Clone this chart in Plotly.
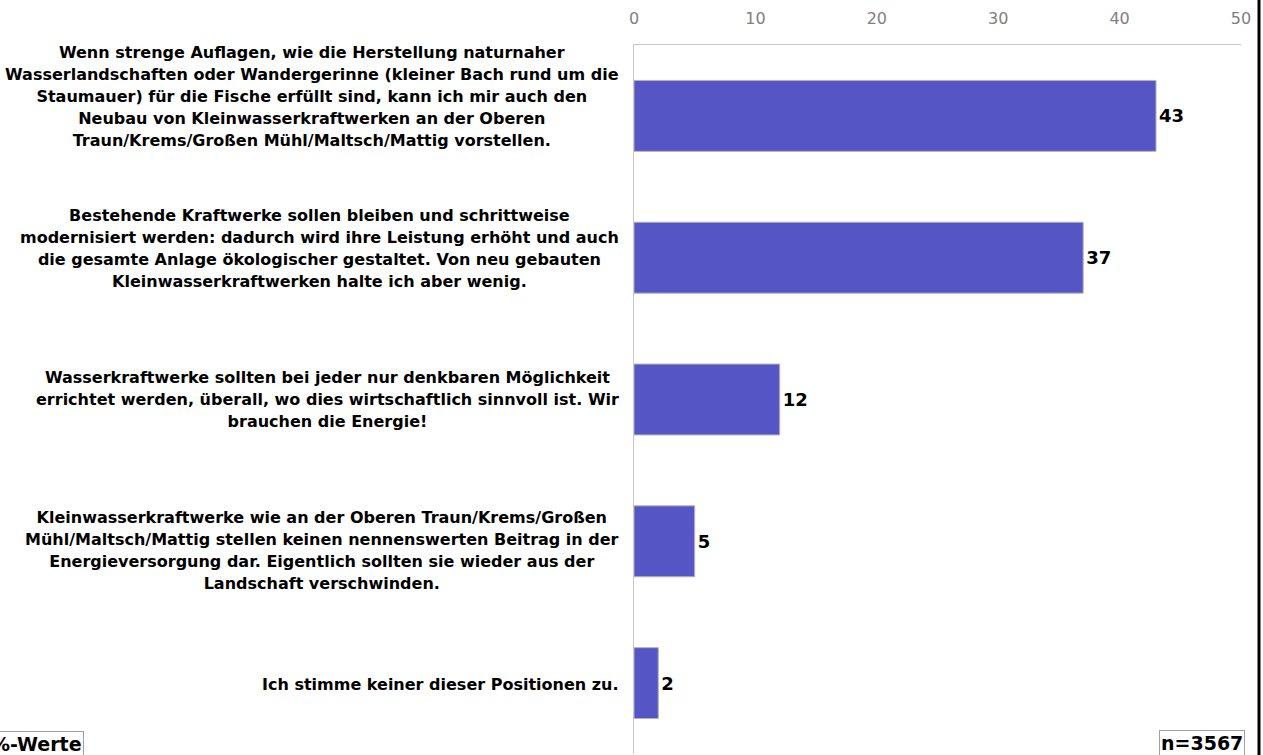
import plotly.graph_objects as go

categories = [
    ["Wenn strenge Auflagen, wie die Herstellung naturnaher",
     "Wasserlandschaften oder Wandergerinne (kleiner Bach rund um die",
     "Staumauer) für die Fische erfüllt sind, kann ich mir auch den",
     "Neubau von Kleinwasserkraftwerken an der Oberen",
     "Traun/Krems/Großen Mühl/Maltsch/Mattig vorstellen."],
    ["Bestehende Kraftwerke sollen bleiben und schrittweise",
     "modernisiert werden: dadurch wird ihre Leistung erhöht und auch",
     "die gesamte Anlage ökologischer gestaltet. Von neu gebauten",
     "Kleinwasserkraftwerken halte ich aber wenig."],
    ["Wasserkraftwerke sollten bei jeder nur denkbaren Möglichkeit",
     "errichtet werden, überall, wo dies wirtschaftlich sinnvoll ist. Wir",
     "brauchen die Energie!"],
    ["Kleinwasserkraftwerke wie an der Oberen Traun/Krems/Großen",
     "Mühl/Maltsch/Mattig stellen keinen nennenswerten Beitrag in der",
     "Energieversorgung dar. Eigentlich sollten sie wieder aus der",
     "Landschaft verschwinden."],
    ["Ich stimme keiner dieser Positionen zu."],
]
values = [43, 37, 12, 5, 2]
tick_values = [0, 10, 20, 30, 40, 50]
unit_label = "%-Werte"
n_label = "n=3567"

cat_keys = [" ".join(c) for c in categories]

FONT = "DejaVu Sans"
L, R, T, B = 634, 22, 45, 1
W, H = 1263, 755
pw = W - L - R
ph = H - T - B

fig = go.Figure()
fig.add_trace(go.Bar(
    x=values, y=cat_keys, orientation="h", width=0.5,
    marker=dict(color="#5555C5", line=dict(color="#B4B4B4", width=1)),
    text=[str(v) for v in values], textposition="outside",
    textfont=dict(family=FONT, size=18, color="#000000", weight="bold"),
    cliponaxis=False, hoverinfo="skip",
))

yshifts = [19.5, 9, 0, -9, -1.5]
annotations = []
for key, lines, ys in zip(cat_keys, categories, yshifts):
    txt = "<br>".join('<span style="font-size:16px">%s</span>' % ln for ln in lines)
    annotations.append(dict(
        x=(621 - L) / pw, xref="paper", y=key, yref="y",
        text=txt, showarrow=False, xanchor="right", yanchor="middle",
        align="center", yshift=ys,
        font=dict(family=FONT, size=17, color="#000000", weight="bold"),
    ))

annotations.append(dict(
    x=(84 - L) / pw, xref="paper", y=((H - B) - 731) / ph,
    yref="paper", text=unit_label, showarrow=False, xanchor="right", yanchor="top",
    font=dict(family=FONT, size=19, color="#000000", weight="bold"),
    bordercolor="#A0A0A0", borderwidth=1, borderpad=1, bgcolor="#FFFFFF",
))
annotations.append(dict(
    x=(1159 - L) / pw, xref="paper", y=((H - B) - 730) / ph,
    yref="paper", text=n_label, showarrow=False, xanchor="left", yanchor="top",
    font=dict(family=FONT, size=19, color="#000000", weight="bold"),
    bordercolor="#A0A0A0", borderwidth=1, borderpad=1, bgcolor="#FFFFFF",
))

fig.update_layout(
    width=W, height=H,
    margin=dict(l=L, r=R, t=T, b=B, pad=0),
    paper_bgcolor="#FFFFFF", plot_bgcolor="#FFFFFF",
    showlegend=False,
    annotations=annotations,
    shapes=[dict(type="line", xref="paper", yref="paper",
                 x0=(1259 - L) / pw, x1=(1259 - L) / pw, y0=-0.1, y1=1.2,
                 line=dict(color="#000000", width=3))],
    xaxis=dict(
        range=[0, 50], side="top", tickvals=tick_values,
        showgrid=False, zeroline=False, showline=True, linecolor="#C8C8C8", linewidth=1,
        ticks="", ticklabelstandoff=14,
        tickfont=dict(family=FONT, size=16, color="#808080"),
        fixedrange=True,
    ),
    yaxis=dict(
        categoryorder="array", categoryarray=cat_keys, autorange="reversed",
        showticklabels=False, showgrid=False, zeroline=False,
        showline=True, linecolor="#C8C8C8", linewidth=1, ticks="",
        fixedrange=True,
    ),
)

fig.write_html("out.html", config={"displayModeBar": False},
               post_script="document.body.style.margin='0';document.body.style.overflow='hidden';")
